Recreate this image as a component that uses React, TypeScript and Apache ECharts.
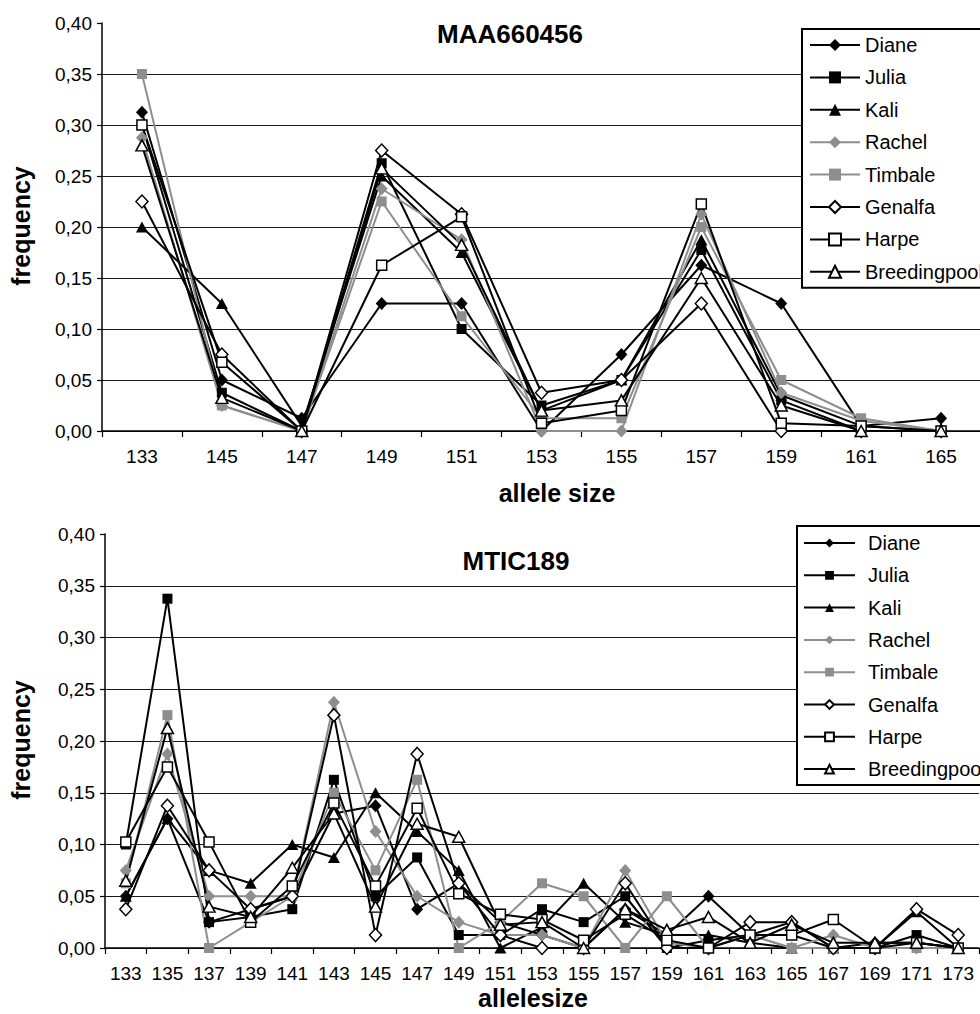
import React, { useEffect, useRef } from 'react';
import * as echarts from 'echarts';

const seriesNames = ['Diane', 'Julia', 'Kali', 'Rachel', 'Timbale', 'Genalfa', 'Harpe', 'Breedingpool'];

// MAA660456
const maaCategories = ['133', '145', '147', '149', '151', '153', '155', '157', '159', '161', '165'];
const maaDiane = [0.3125, 0.05, 0.0125, 0.125, 0.125, 0, 0.075, 0.1625, 0.125, 0.005, 0.0125];
const maaJulia = [0.3, 0.0375, 0, 0.2625, 0.1, 0.025, 0.05, 0.1775, 0.03, 0, 0];
const maaKali = [0.2, 0.125, 0.005, 0.25, 0.175, 0.02, 0.05, 0.1875, 0.035, 0.005, 0];
const maaRachel = [0.2875, 0.025, 0, 0.2375, 0.1875, 0, 0, 0.2125, 0.0375, 0.01, 0];
const maaTimbale = [0.35, 0.025, 0, 0.225, 0.1125, 0.0125, 0.0125, 0.2, 0.05, 0.0125, 0];
const maaGenalfa = [0.225, 0.075, 0, 0.275, 0.2125, 0.0375, 0.05, 0.125, 0, 0, 0];
const maaHarpe = [0.3, 0.0675, 0, 0.1625, 0.21, 0.0075, 0.02, 0.2225, 0.0075, 0.005, 0];
const maaBreedingpool = [0.28, 0.0325, 0, 0.2575, 0.1825, 0.02, 0.03, 0.15, 0.025, 0, 0];

// MTIC189
const mticCategories = ['133', '135', '137', '139', '141', '143', '145', '147', '149', '151', '153', '155', '157', '159', '161', '163', '165', '167', '169', '171', '173'];
const mticDiane = [0.05, 0.125, 0.025, 0.0375, 0.05, 0.13, 0.1375, 0.0375, 0.0625, 0.025, 0.0125, 0, 0.0375, 0.0125, 0.05, 0.0125, 0.025, 0, 0.005, 0.005, 0];
const mticJulia = [0.1, 0.3375, 0.025, 0.03, 0.0375, 0.1625, 0.05, 0.0875, 0.0125, 0.0125, 0.0375, 0.025, 0.05, 0, 0.0075, 0.0125, 0.0125, 0, 0, 0.0125, 0];
const mticKali = [0.05, 0.125, 0.075, 0.0625, 0.1, 0.0875, 0.15, 0.1125, 0.075, 0, 0.02, 0.0625, 0.025, 0.0125, 0.0125, 0.005, 0, 0, 0, 0.035, 0];
const mticRachel = [0.075, 0.1875, 0.05, 0.05, 0.05, 0.2375, 0.1125, 0.05, 0.025, 0.0125, 0.0125, 0, 0.075, 0.005, 0, 0.0125, 0, 0.0125, 0, 0, 0];
const mticTimbale = [0.0625, 0.225, 0, 0.025, 0.05, 0.15, 0.075, 0.1625, 0, 0.025, 0.0625, 0.05, 0, 0.05, 0, 0.0125, 0, 0, 0, 0, 0];
const mticGenalfa = [0.0375, 0.1375, 0.075, 0.0375, 0.05, 0.225, 0.0125, 0.1875, 0.0625, 0.0125, 0, 0, 0.0625, 0, 0, 0.025, 0.025, 0, 0, 0.0375, 0.0125];
const mticHarpe = [0.1025, 0.175, 0.1025, 0.025, 0.06, 0.14, 0.06, 0.135, 0.0525, 0.0325, 0.0275, 0.0075, 0.0325, 0.0075, 0, 0.0125, 0.0125, 0.0275, 0, 0.005, 0];
const mticBreedingpool = [0.065, 0.2125, 0.04, 0.03, 0.0775, 0.13, 0.04, 0.12, 0.1075, 0.0225, 0.025, 0, 0.0375, 0.0175, 0.03, 0.005, 0.0225, 0.005, 0.005, 0.005, 0];

const maaValues = [maaDiane, maaJulia, maaKali, maaRachel, maaTimbale, maaGenalfa, maaHarpe, maaBreedingpool];
const mticValues = [mticDiane, mticJulia, mticKali, mticRachel, mticTimbale, mticGenalfa, mticHarpe, mticBreedingpool];

const FONT = 'Liberation Sans, Arial, Helvetica, sans-serif';
const GRAY = '#8e8e8e';

const seriesStyles = [
  { symbol: 'diamond', size: [12, 13], fill: '#000', border: '#000', bw: 0, line: '#000' },
  { symbol: 'rect', size: 10, fill: '#000', border: '#000', bw: 0, line: '#000' },
  { symbol: 'triangle', size: [12, 11], fill: '#000', border: '#000', bw: 0, line: '#000' },
  { symbol: 'diamond', size: [12, 13], fill: GRAY, border: GRAY, bw: 0, line: GRAY },
  { symbol: 'rect', size: 10, fill: GRAY, border: GRAY, bw: 0, line: GRAY },
  { symbol: 'diamond', size: [12, 13], fill: '#fff', border: '#000', bw: 1.5, line: '#000' },
  { symbol: 'rect', size: 10, fill: '#fff', border: '#000', bw: 1.5, line: '#000' },
  { symbol: 'triangle', size: [12, 11], fill: '#fff', border: '#000', bw: 1.5, line: '#000' },
];

const fmt = (v: number) => v.toFixed(2).replace('.', ',');

function buildSeries(values: number[][], axisIndex: number) {
  return values.map((vals, i) => {
    const st = seriesStyles[i];
    return {
      name: seriesNames[i],
      type: 'line',
      xAxisIndex: axisIndex,
      yAxisIndex: axisIndex,
      data: vals,
      symbol: st.symbol,
      symbolSize: st.size,
      showSymbol: true,
      showAllSymbol: true,
      lineStyle: { color: st.line, width: 2 },
      itemStyle: { color: st.fill, borderColor: st.border, borderWidth: st.bw },
      emphasis: { disabled: true },
      silent: true,
    };
  });
}

function xAxisCfg(gridIndex: number, data: string[]) {
  return {
    gridIndex,
    type: 'category',
    data,
    boundaryGap: true,
    axisLine: { show: true, lineStyle: { color: '#000', width: 1.5 } },
    axisTick: { show: true, length: 6, alignWithLabel: false, lineStyle: { color: '#000', width: 1.2 } },
    axisLabel: { color: '#000', fontSize: 19, fontFamily: FONT, margin: 16, interval: 0 },
    splitLine: { show: false },
  };
}

function yAxisCfg(gridIndex: number) {
  return {
    gridIndex,
    type: 'value',
    min: 0,
    max: 0.4,
    interval: 0.05,
    axisLine: { show: true, lineStyle: { color: '#000', width: 1.5 } },
    axisTick: { show: true, length: 5, lineStyle: { color: '#000', width: 1.2 } },
    axisLabel: { formatter: fmt, color: '#000', fontSize: 19, fontFamily: FONT, margin: 10 },
    splitLine: { show: true, showMaxLine: false, lineStyle: { color: '#1a1a1a', width: 1.2 } },
  };
}

function legendCfg(left: number, top: number, itemHeight: number, itemWidth: number, gap: number, pad: number[], textPadLeft: number) {
  return {
    data: seriesNames,
    orient: 'vertical',
    left,
    top,
    itemWidth,
    itemHeight,
    itemGap: gap,
    padding: pad,
    backgroundColor: '#fff',
    borderColor: '#000',
    borderWidth: 2,
    borderRadius: 0,
    selectedMode: false,
    textStyle: { fontSize: 20, fontFamily: FONT, color: '#000', lineHeight: 20, padding: [0, 0, 0, textPadLeft] },
  };
}

function textEl(text: string, x: number, y: number, size: number, bold: boolean, rotation = 0) {
  return {
    type: 'text',
    x,
    y,
    rotation,
    style: {
      text,
      font: `${bold ? 'bold ' : ''}${size}px ${FONT}`,
      fill: '#000',
      textAlign: 'center',
      textVerticalAlign: 'middle',
      align: 'center',
      verticalAlign: 'middle',
    },
  };
}

export default function App() {
  const ref = useRef<HTMLDivElement>(null);

  useEffect(() => {
    if (!ref.current) return;
    const chart = echarts.init(ref.current, undefined, { renderer: 'svg' });
    chart.setOption({
      animation: false,
      backgroundColor: '#fff',
      textStyle: { fontFamily: FONT },
      grid: [
        { left: 102, top: 23, width: 879, height: 408, containLabel: false },
        { left: 105, top: 534, width: 874, height: 414, containLabel: false },
      ],
      xAxis: [xAxisCfg(0, maaCategories), xAxisCfg(1, mticCategories)],
      yAxis: [yAxisCfg(0), yAxisCfg(1)],
      legend: [
        legendCfg(802, 29, 15, 50, 12.4, [6, 30, 6, 7], 0),
        legendCfg(797, 526, 11, 51, 12.3, [7, 30, 6, 6], 8),
      ],
      series: [...buildSeries(maaValues, 0), ...buildSeries(mticValues, 1)],
      graphic: [
        textEl('MAA660456', 510, 34, 26, true),
        textEl('MTIC189', 516, 561, 26, true),
        textEl('allele size', 557, 493, 25, true),
        textEl('allelesize', 533, 998, 25, true),
        textEl('frequency', 21, 226, 25, true, Math.PI / 2),
        textEl('frequency', 21, 740, 25, true, Math.PI / 2),
      ],
    });
    return () => chart.dispose();
  }, []);

  return (
    <div style={{ position: 'absolute', left: 0, top: 0, width: 980, height: 1014, overflow: 'hidden', background: '#fff' }}>
      <div ref={ref} style={{ width: 1000, height: 1014 }} />
    </div>
  );
}
